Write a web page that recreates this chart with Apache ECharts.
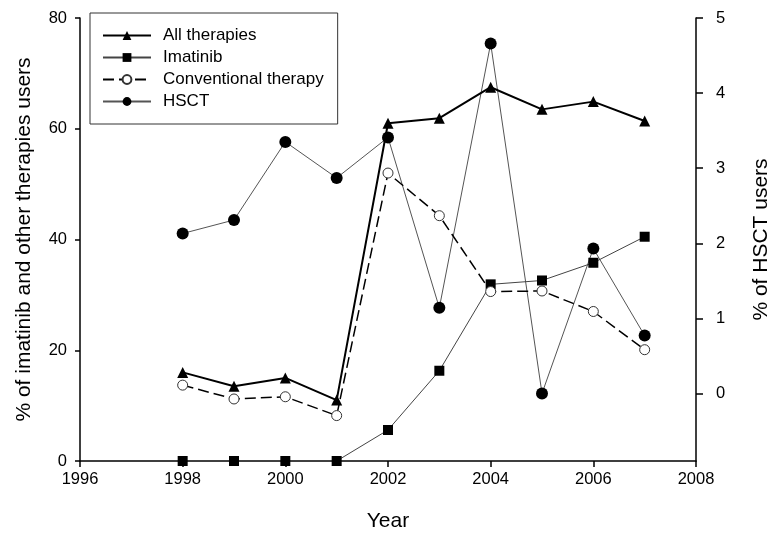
<!DOCTYPE html>
<html>
<head>
<meta charset="utf-8">
<script src="https://cdn.jsdelivr.net/npm/echarts@6/dist/echarts.min.js"></script>
<style>html,body{margin:0;padding:0;background:#fff}#c{width:768px;height:533px}</style>
</head>
<body>
<div id="c"></div>
<script>
const years = [1998, 1999, 2000, 2001, 2002, 2003, 2004, 2005, 2006, 2007];
const allTherapies = [16.0, 13.5, 15.0, 11.0, 61.0, 61.9, 67.5, 63.5, 64.9, 61.4];
const imatinib = [0, 0, 0, 0, 5.6, 16.3, 31.9, 32.6, 35.8, 40.5];
const conventional = [13.7, 11.2, 11.6, 8.2, 52.0, 44.3, 30.6, 30.7, 27.0, 20.1];
const hsct = [2.13, 2.31, 3.35, 2.87, 3.41, 1.14, 4.66, 0.0, 1.93, 0.77];
const rightTicks = [0, 1, 2, 3, 4, 5];

const pair = (arr) => years.map((y, i) => [y, arr[i]]);
const font = 'Liberation Sans, Arial, sans-serif';

const chart = echarts.init(document.getElementById('c'));
chart.setOption({
  animation: false,
  backgroundColor: '#fff',
  textStyle: { fontFamily: font },
  grid: { left: 80, right: 72, top: 18, bottom: 72, containLabel: false, outerBoundsMode: 'none' },
  legend: {
    orient: 'vertical',
    left: 90, top: 13,
    padding: [14, 14, 14, 12],
    itemWidth: 48, itemHeight: 11, itemGap: 5,
    borderColor: '#333', borderWidth: 1,
    backgroundColor: '#fff',
    textStyle: { fontFamily: font, fontSize: 17, color: '#000', lineHeight: 17, padding: [0, 0, 0, 7] },
    data: ['All therapies', 'Imatinib', 'Conventional therapy', 'HSCT']
  },
  xAxis: {
    type: 'value', min: 1996, max: 2008, interval: 2,
    name: 'Year', nameLocation: 'middle', nameGap: 50,
    nameTextStyle: { fontFamily: font, fontSize: 21, color: '#000' },
    axisLine: { lineStyle: { color: '#000', width: 1.5 } },
    axisTick: { inside: false, length: 6, lineStyle: { color: '#000', width: 1.5 } },
    axisLabel: { fontFamily: font, fontSize: 16.5, color: '#000', margin: 10, formatter: (v) => String(v) },
    splitLine: { show: false }
  },
  yAxis: [
    {
      type: 'value', min: 0, max: 80, interval: 20, position: 'left',
      name: '% of imatinib and other therapies users', nameLocation: 'middle', nameGap: 45,
      nameTextStyle: { fontFamily: font, fontSize: 21, color: '#000' },
      axisLine: { show: true, lineStyle: { color: '#000', width: 1.5 } },
      axisTick: { show: true, length: 5, lineStyle: { color: '#000', width: 1.5 } },
      axisLabel: { fontFamily: font, fontSize: 16.5, color: '#000', margin: 13 },
      splitLine: { show: false }
    },
    {
      type: 'value', min: -0.9, max: 5, position: 'right',
      name: '% of HSCT users', nameLocation: 'middle', nameGap: 55,
      nameTextStyle: { fontFamily: font, fontSize: 21, color: '#000' },
      axisLine: { show: true, lineStyle: { color: '#000', width: 1.5 } },
      axisTick: { show: true, length: 7, customValues: rightTicks, lineStyle: { color: '#000', width: 1.5 } },
      axisLabel: { fontFamily: font, fontSize: 16.5, color: '#000', margin: 20, customValues: rightTicks },
      splitLine: { show: false }
    }
  ],
  series: [
    {
      name: 'HSCT', type: 'line', yAxisIndex: 1, data: pair(hsct),
      symbol: 'circle', symbolSize: 12,
      lineStyle: { color: '#555', width: 1 },
      itemStyle: { color: '#000', borderColor: '#000', borderWidth: 0 },
      z: 2
    },
    {
      name: 'Imatinib', type: 'line', data: pair(imatinib),
      symbol: 'rect', symbolSize: 10,
      lineStyle: { color: '#444', width: 1 },
      itemStyle: { color: '#000' },
      z: 3
    },
    {
      name: 'Conventional therapy', type: 'line', data: pair(conventional),
      symbol: 'circle', symbolSize: 10,
      lineStyle: { color: '#000', width: 1.5, type: [11, 5] },
      itemStyle: { color: '#fff', borderColor: '#333', borderWidth: 1 },
      z: 4
    },
    {
      name: 'All therapies', type: 'line', data: pair(allTherapies),
      symbol: 'triangle', symbolSize: 11,
      lineStyle: { color: '#000', width: 2 },
      itemStyle: { color: '#000' },
      z: 5
    }
  ]
});
</script>
</body>
</html>
